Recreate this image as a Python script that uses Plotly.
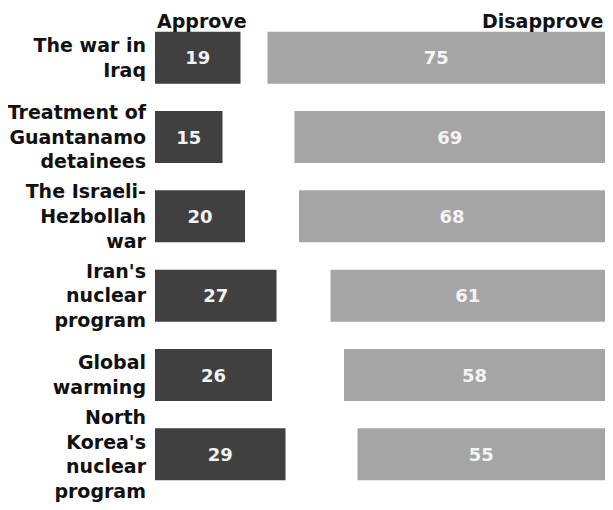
import plotly.graph_objects as go

categories = [
    "The war in<br>Iraq",
    "Treatment of<br>Guantanamo<br>detainees",
    "The Israeli-<br>Hezbollah<br>war",
    "Iran's<br>nuclear<br>program",
    "Global<br>warming",
    "North<br>Korea's<br>nuclear<br>program",
]
approve = [19, 15, 20, 27, 26, 29]
disapprove = [75, 69, 68, 61, 58, 55]
total_scale = 100

FONT = "DejaVu Sans"
LABEL_SIZE = 19

fig = go.Figure()
fig.add_trace(go.Bar(
    y=categories, x=approve, orientation="h",
    marker=dict(color="#404040", line=dict(width=0)),
    text=[str(v) for v in approve], textposition="inside",
    insidetextanchor="middle", constraintext="none",
    textfont=dict(family=FONT, size=18, color="#f2f2f2", weight="bold"),
    hoverinfo="skip", name="Approve",
))
fig.add_trace(go.Bar(
    y=categories, x=disapprove, base=[total_scale - d for d in disapprove],
    orientation="h",
    marker=dict(color="#a5a5a5", line=dict(width=0)),
    text=[str(v) for v in disapprove], textposition="inside",
    insidetextanchor="middle", constraintext="none",
    textfont=dict(family=FONT, size=18, color="#f4f4f4", weight="bold"),
    hoverinfo="skip", name="Disapprove",
))

fig.update_layout(
    width=597, height=494, autosize=False,
    margin=dict(l=145, r=0, t=10, b=2, pad=0),
    paper_bgcolor="white", plot_bgcolor="white",
    showlegend=False, barmode="overlay", bargap=0.345,
    font=dict(family=FONT, size=LABEL_SIZE, color="#111111"),
    xaxis=dict(range=[0, total_scale], visible=False, fixedrange=True),
    yaxis=dict(
        autorange="reversed", showgrid=False, zeroline=False, showline=False,
        ticks="", ticklabelstandoff=8, fixedrange=True,
        tickfont=dict(family=FONT, size=LABEL_SIZE, color="#111111", weight="bold"),
    ),
    annotations=[
        dict(text="Approve", xref="paper", yref="paper", x=0, y=1,
             xanchor="left", yanchor="middle", yshift=-3, showarrow=False,
             font=dict(family=FONT, size=LABEL_SIZE, color="#111111", weight="bold")),
        dict(text="Disapprove", xref="paper", yref="paper", x=1, y=1,
             xanchor="right", yanchor="middle", yshift=-3, showarrow=False,
             font=dict(family=FONT, size=LABEL_SIZE, color="#111111", weight="bold")),
    ],
)

fig.write_html("out.html")
